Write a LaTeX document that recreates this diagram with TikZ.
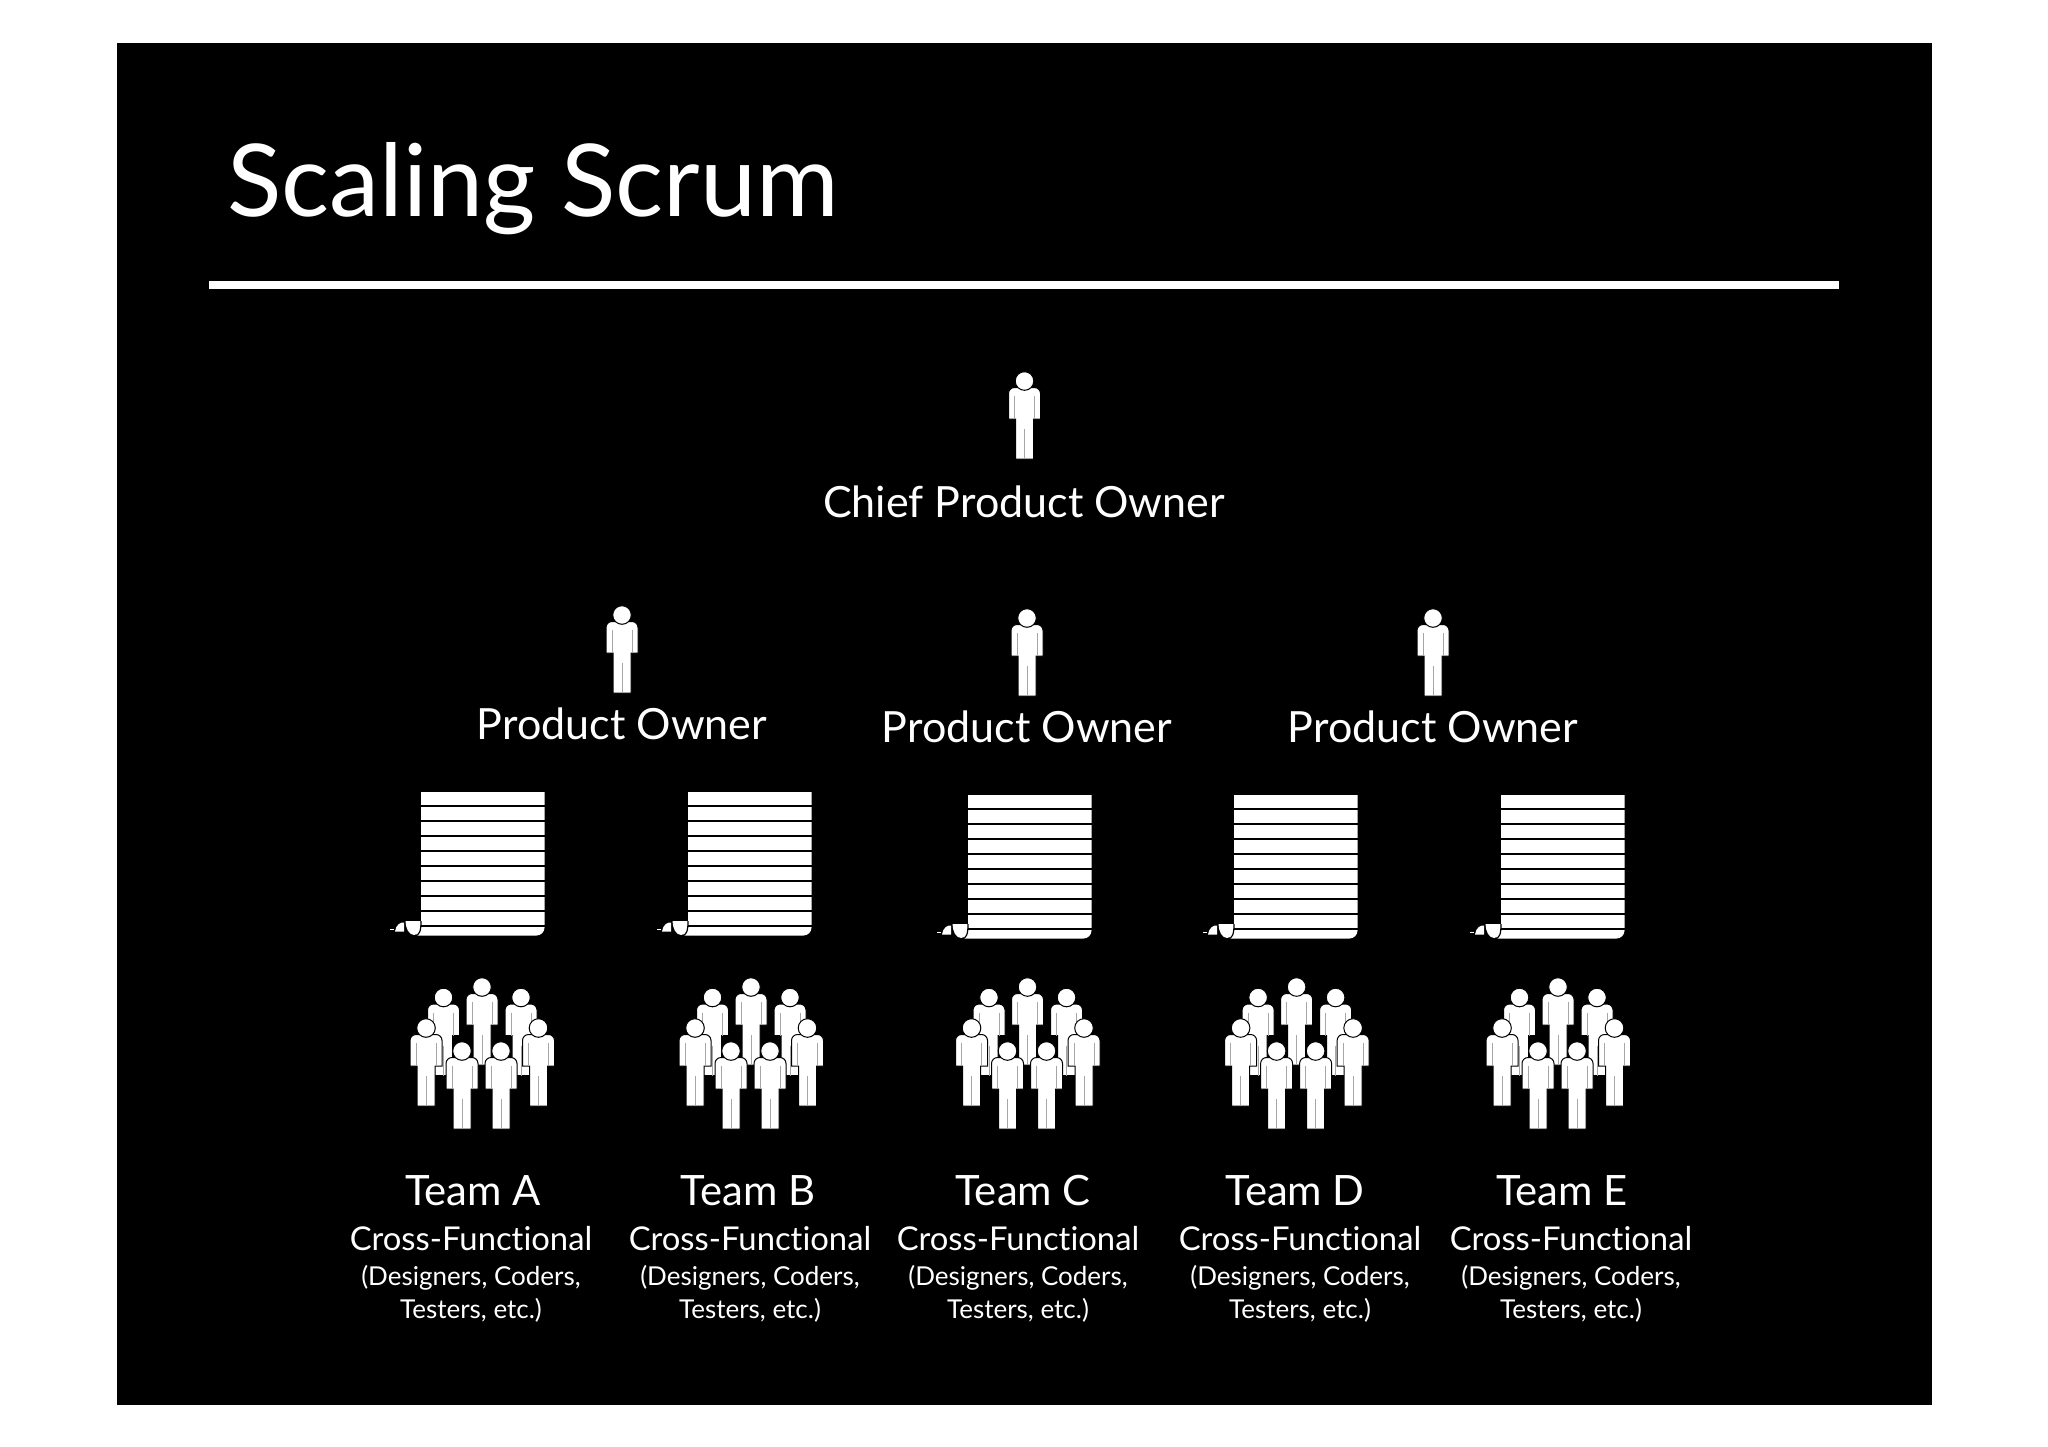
\documentclass[tikz,border=0pt]{standalone}
\usepackage{fontspec}
\setmainfont[Ligatures=NoCommon]{Lato}
\usetikzlibrary{positioning}

\tikzset{
  person/.pic={
    \path[fill=white, draw=black, line width=1pt]
      (-16,38) [rounded corners=6pt] -- (-16,6.5) -- (16,6.5) [sharp corners] -- (16,38) -- (10,38) -- (9,38) -- (9,78) -- (-9,78) -- (-9,38) -- cycle;
    \draw[gray!70, line width=0.5pt] (-10,15) -- (-10,38) (10,15) -- (10,38) (0,48) -- (0,78);
    \path[fill=white, draw=black, line width=1pt] (0,0) circle (9.3);
  },
  backlog/.pic={
    \fill[white] (0,0) -- (123.5,0) [rounded corners=8pt] -- (123.5,143.5) [sharp corners] -- (-5,143.5) -- (0,135) -- cycle;
    \foreach \ln in {14,29,44,59,74,89,104.3,119.3,134}
      \draw[black, line width=1.7pt] (0,\ln) -- (123.5,\ln);
    \fill[white] (-15.5,129) -- (0,129) .. controls (0,136) and (-1,143) .. (-7,143) .. controls (-12,143) and (-15.5,136) .. cycle;
    \draw[black, line width=1.2pt] (0,129) .. controls (0,138) and (-1,144) .. (-7,144);
    \fill[white] (-26,139.5) .. controls (-25,133) and (-21,130) .. (-17,130.5) -- (-17,139.5) -- cycle;
    \fill[white] (-31,136.5) rectangle (-27,138);
  },
  team/.pic={
    \pic at (0,0) {person};
    \pic at (-38.5,10.5) {person};
    \pic at (39,10.5) {person};
    \pic at (-56,41) {person};
    \pic at (56.5,41) {person};
    \pic at (-20,64) {person};
    \pic at (19,64) {person};
  }
}

\begin{document}
\begin{tikzpicture}[x=1pt, y=-1pt]
  \tikzstyle{titletext} = [text=white, anchor=base, font=\fontsize{100.5}{102}\selectfont, inner sep=0pt];
  \tikzstyle{ownertext} = [text=white, anchor=base, font=\fontsize{43}{43}\selectfont, inner sep=0pt];
  \tikzstyle{teamtext} = [text=white, anchor=base, font=\fontsize{41.8}{42}\selectfont, inner sep=0pt];
  \tikzstyle{crosstext} = [text=white, anchor=base, font=\fontsize{32.8}{33}\selectfont, inner sep=0pt];
  \tikzstyle{roletext} = [text=white, anchor=base, font=\fontsize{26}{26}\selectfont, inner sep=0pt];

  \useasboundingbox (0,0) rectangle (2048,1447);
  \fill[white] (0,0) rectangle (2048,1447);
  \fill[black] (117,43) rectangle (1932,1405);

  \node[titletext, anchor=base west](Title) at (227,217) {Scaling Scrum};
  \fill[white] (209,281.5) rectangle (1839,289);

  \pic at (1024.5,381) {person};
  \node[ownertext](Chief) at (1024,517.5) {Chief Product Owner};

  \foreach \nm/\hx/\hy/\ty in {A/622/615/739, B/1027/618/742, C/1433/618/742}{
    \pic at (\hx,\hy) {person};
    \node[ownertext](Owner\nm) at (\hx,\ty) {Product Owner};
  }

  \foreach \nm/\bx/\by/\gx/\tx/\cx in {A/421/792/482/473/471, B/688/792/751/748/750, C/968/795/1027.5/1023/1018, D/1234/795/1296.6/1295/1300, E/1501/795/1558/1562/1571}{
    \pic at (\bx,\by) {backlog};
    \pic at (\gx,987) {team};
    \node[teamtext](Team\nm) at (\tx,1205) {Team \nm};
    \node[crosstext](Cross\nm) at (\cx,1250) {Cross-Functional};
    \node[roletext](Role\nm) at (\cx,1285.5) {(Designers, Coders,};
    \node[roletext](Test\nm) at (\cx,1318.5) {Testers, etc.)};
  }
\end{tikzpicture}
\end{document}
